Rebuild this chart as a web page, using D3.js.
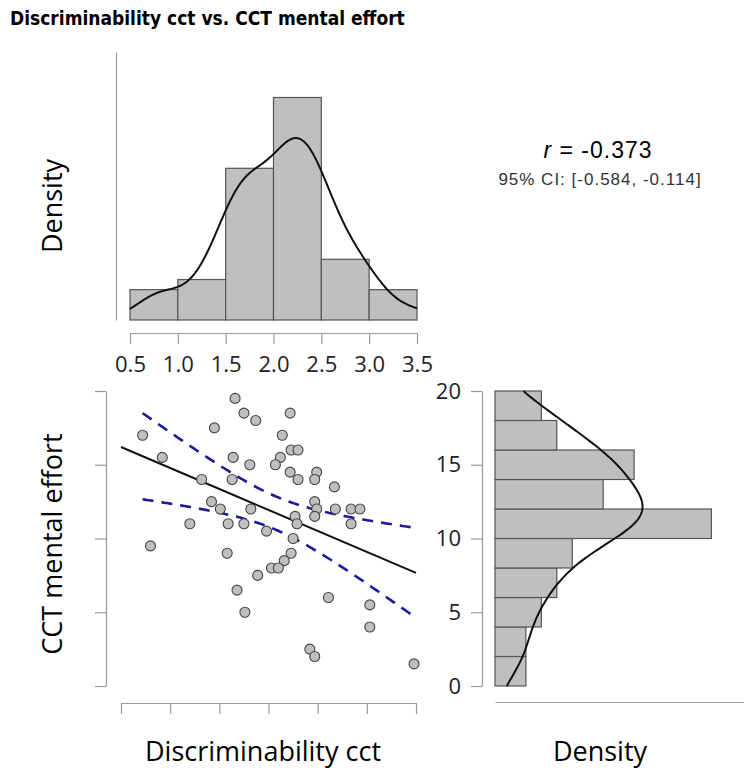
<!DOCTYPE html>
<html>
<head>
<meta charset="utf-8">
<script src="https://cdn.jsdelivr.net/npm/d3@7"></script>
<style>
  body { margin: 0; background: #fff; }
  .ax path, .ax line { stroke: #9a9a9a; stroke-width: 1.2; }
  .ax text { font-family: "Open Sans", sans-serif; font-size: 22px; fill: #222; }
</style>
</head>
<body>
<script>
// Discriminability cct (x) and CCT mental effort (y), one entry per participant
var discrim = [1.66, 1.75, 1.87, 2.22, 0.72, 1.45, 2.14, 0.92, 1.64, 2.12,
               2.23, 2.30, 1.81, 2.07, 1.32, 1.63, 2.22, 2.30, 2.49, 2.47,
               2.67, 1.42, 1.51, 1.82, 2.47, 2.49, 2.68, 2.84, 2.93, 2.47,
               2.27, 1.20, 1.59, 1.75, 2.29, 2.84, 1.98, 2.25, 0.80, 1.58,
               2.23, 2.16, 2.03, 2.10, 1.89, 1.68, 2.61, 3.03, 1.76, 3.03,
               2.42, 2.47, 3.48];
var effort = [19.5, 18.5, 18, 18.5, 17, 17.5, 17, 15.5, 15.5, 15.5,
              16, 16, 15, 15, 14, 14, 14.5, 14, 14.5, 14,
              13.5, 12.5, 12, 12, 12.5, 12, 12, 12, 12, 11.5,
              11.5, 11, 11, 11, 11, 11, 10.5, 10, 9.5, 9,
              9, 8.5, 8, 8, 7.5, 6.5, 6, 5.5, 5, 4,
              2.5, 2, 1.5];

var xTicks = [0.5, 1.0, 1.5, 2.0, 2.5, 3.0, 3.5];
var yTicks = [0, 5, 10, 15, 20];
var xBreaks = [0.5, 1.0, 1.5, 2.0, 2.5, 3.0, 3.5];
var yBreaks = [0, 2, 4, 6, 8, 10, 12, 14, 16, 18, 20];

var rText = "-0.373";
var ciText = "95% CI: [-0.584, -0.114]";
var tCrit = 2.0076; // t(0.975, df = 51)

var svg = d3.select("body").append("svg")
            .attr("width", 744)
            .attr("height", 773);

var n = discrim.length;

// right-closed bins like R's hist()
function binCounts(vals, breaks) {
  var out = [];
  for (var i = 0; i < breaks.length - 1; i++) {
    var lo = breaks[i], hi = breaks[i + 1];
    var c = vals.filter(function (v) { return (v > lo || (i == 0 && v == lo)) && v <= hi; }).length;
    out.push({ x0: lo, x1: hi, density: c / (n * (hi - lo)) });
  }
  return out;
}

// gaussian kde, bw.nrd0
function kde(vals, grid) {
  var sd = d3.deviation(vals);
  var iqr = d3.quantile(vals, 0.75) - d3.quantile(vals, 0.25);
  var bw = 0.9 * Math.min(sd, iqr / 1.34) * Math.pow(vals.length, -0.2);
  return grid.map(function (g) {
    var s = d3.sum(vals, function (v) { var z = (g - v) / bw; return Math.exp(-0.5 * z * z); });
    return [g, s / (vals.length * bw * Math.sqrt(2 * Math.PI))];
  });
}

// title
svg.append("text")
   .attr("x", 10)
   .attr("y", 25)
   .attr("font-family", "'Liberation Sans Narrow', 'DejaVu Sans Condensed', sans-serif")
   .attr("font-weight", "bold")
   .attr("font-size", 19)
   .text("Discriminability cct vs. CCT mental effort");

// ---- top histogram ----
var xTop = d3.scaleLinear().domain([0.5, 3.5]).range([130, 417]);
var yTop = d3.scaleLinear().domain([0, 1]).range([320, 52]);

svg.append("g").attr("class", "ax")
   .attr("transform", "translate(116,0)")
   .call(d3.axisLeft(yTop).tickValues([]).tickSizeOuter(0));

svg.append("g").attr("class", "ax")
   .attr("transform", "translate(0,333)")
   .call(d3.axisBottom(xTop).tickValues(xTicks).tickFormat(d3.format(".1f")).tickSize(11).tickSizeOuter(0).tickPadding(12));

svg.append("g").selectAll("rect")
   .data(binCounts(discrim, xBreaks))
   .enter().append("rect")
   .attr("x", function (d) { return xTop(d.x0); })
   .attr("y", function (d) { return yTop(d.density); })
   .attr("width", function (d) { return xTop(d.x1) - xTop(d.x0); })
   .attr("height", function (d) { return yTop(0) - yTop(d.density); })
   .attr("fill", "#bfbfbf")
   .attr("stroke", "#555")
   .attr("stroke-width", 1.2);

svg.append("path")
   .datum(kde(discrim, d3.range(0.5, 3.5001, 0.01)))
   .attr("fill", "none")
   .attr("stroke", "#111")
   .attr("stroke-width", 2)
   .attr("d", d3.line().x(function (d) { return xTop(d[0]); }).y(function (d) { return yTop(d[1]); }));

svg.append("text")
   .attr("transform", "translate(62,206) rotate(-90)")
   .attr("text-anchor", "middle")
   .attr("font-family", "'Open Sans', sans-serif")
   .attr("font-size", 27)
   .text("Density");

// r and CI
var rt = svg.append("text")
   .attr("x", 598)
   .attr("y", 158)
   .attr("text-anchor", "middle")
   .attr("font-family", "'Liberation Sans', Arial, sans-serif")
   .attr("font-size", 23)
   .attr("letter-spacing", 1);
rt.append("tspan").attr("font-style", "italic").text("r");
rt.append("tspan").text(" = " + rText);

svg.append("text")
   .attr("x", 600)
   .attr("y", 185)
   .attr("text-anchor", "middle")
   .attr("font-family", "'Liberation Sans', Arial, sans-serif")
   .attr("font-size", 17)
   .attr("letter-spacing", 1)
   .attr("fill", "#333")
   .text(ciText);

// ---- scatter ----
var xSc = d3.scaleLinear().domain([0.5, 3.5]).range([121, 416]);
var ySc = d3.scaleLinear().domain([0, 20]).range([686, 391]);

svg.append("g").attr("class", "ax")
   .attr("transform", "translate(106,0)")
   .call(d3.axisLeft(ySc).tickValues(yTicks).tickFormat("").tickSize(11).tickSizeOuter(0));

svg.append("g").attr("class", "ax")
   .attr("transform", "translate(0,703)")
   .call(d3.axisBottom(xSc).tickValues(xTicks).tickFormat("").tickSize(11).tickSizeOuter(0));

// least squares fit and 95% confidence band
var mx = d3.mean(discrim), my = d3.mean(effort);
var sxx = d3.sum(discrim, function (v) { return (v - mx) * (v - mx); });
var sxy = d3.sum(discrim, function (v, i) { return (v - mx) * (effort[i] - my); });
var slope = sxy / sxx, icpt = my - slope * mx;
var sse = d3.sum(discrim, function (v, i) { var e = effort[i] - (icpt + slope * v); return e * e; });
var se = Math.sqrt(sse / (n - 2));
var ciGrid = d3.range(d3.min(discrim), d3.max(discrim) + 0.001, 0.02);
var band = ciGrid.map(function (g) {
  var h = tCrit * se * Math.sqrt(1 / n + (g - mx) * (g - mx) / sxx);
  var f = icpt + slope * g;
  return { x: g, lo: f - h, hi: f + h };
});

var bandLine = function (key) {
  return d3.line().x(function (d) { return xSc(d.x); }).y(function (d) { return ySc(d[key]); });
};
["lo", "hi"].forEach(function (k) {
  svg.append("path")
     .datum(band)
     .attr("fill", "none")
     .attr("stroke", "#1a1a9c")
     .attr("stroke-width", 2.6)
     .attr("stroke-dasharray", "11,8")
     .attr("d", bandLine(k));
});

svg.append("line")
   .attr("x1", xSc(0.5))
   .attr("y1", ySc(icpt + slope * 0.5))
   .attr("x2", xSc(3.5))
   .attr("y2", ySc(icpt + slope * 3.5))
   .attr("stroke", "#111")
   .attr("stroke-width", 2);

svg.append("g").selectAll("circle")
   .data(discrim)
   .enter().append("circle")
   .attr("cx", function (d) { return xSc(d); })
   .attr("cy", function (d, i) { return ySc(effort[i]); })
   .attr("r", 5)
   .attr("fill", "#bfbfbf")
   .attr("stroke", "#444")
   .attr("stroke-width", 1.1);

svg.append("text")
   .attr("transform", "translate(62,544) rotate(-90)")
   .attr("text-anchor", "middle")
   .attr("font-family", "'Open Sans', sans-serif")
   .attr("font-size", 27)
   .text("CCT mental effort");

svg.append("text")
   .attr("x", 263)
   .attr("y", 761)
   .attr("text-anchor", "middle")
   .attr("font-family", "'Open Sans', sans-serif")
   .attr("font-size", 27)
   .text("Discriminability cct");

// ---- right histogram ----
var xR = d3.scaleLinear().domain([0, 0.152]).range([495, 744]);

svg.append("g").attr("class", "ax")
   .attr("transform", "translate(482,0)")
   .call(d3.axisLeft(ySc).tickValues(yTicks).tickSize(11).tickSizeOuter(0).tickPadding(10));

svg.append("g").attr("class", "ax")
   .attr("transform", "translate(0,702)")
   .call(d3.axisBottom(xR).tickValues([]).tickSizeOuter(0));

svg.append("g").selectAll("rect")
   .data(binCounts(effort, yBreaks))
   .enter().append("rect")
   .attr("x", xR(0))
   .attr("y", function (d) { return ySc(d.x1); })
   .attr("width", function (d) { return xR(d.density) - xR(0); })
   .attr("height", function (d) { return ySc(d.x0) - ySc(d.x1); })
   .attr("fill", "#bfbfbf")
   .attr("stroke", "#555")
   .attr("stroke-width", 1.2);

svg.append("path")
   .datum(kde(effort, d3.range(0, 20.001, 0.05)))
   .attr("fill", "none")
   .attr("stroke", "#111")
   .attr("stroke-width", 2)
   .attr("d", d3.line().x(function (d) { return xR(d[1]); }).y(function (d) { return ySc(d[0]); }));

svg.append("text")
   .attr("x", 600)
   .attr("y", 761)
   .attr("text-anchor", "middle")
   .attr("font-family", "'Open Sans', sans-serif")
   .attr("font-size", 27)
   .text("Density");
</script>
</body>
</html>
